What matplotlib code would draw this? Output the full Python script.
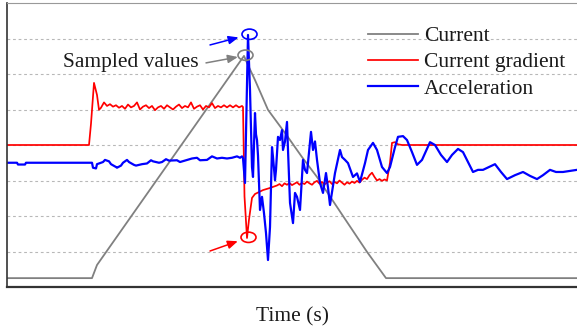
import numpy as np
import matplotlib
matplotlib.use('Agg')
import matplotlib.pyplot as plt
from matplotlib.patches import Ellipse

plt.rcParams['font.family'] = ['Liberation Serif', 'DejaVu Serif']

# --- dane (czas w s, wartosci w jednostkach siatki) ---

# prad: trapez
current_t = [0.0, 8.5, 9.0, 23.7, 24.1, 24.8, 26.1, 27.8, 29.5, 31.0, 33.6, 36.0, 37.9, 57.0]
current_v = [0.25, 0.25, 0.62, 6.51, 6.25, 5.83, 4.99, 4.34, 3.66, 3.10, 2.00, 0.99, 0.25, 0.25]

# gradient pradu
grad_start_t = [0.0, 8.2, 8.4, 8.7, 9.0, 9.2]
grad_start_v = [4.00, 4.00, 4.60, 5.75, 5.41, 4.99]
grad_plateau = [5.05, 5.20, 5.10, 5.15, 5.08, 5.12, 5.05, 5.10, 5.02, 5.14, 5.06, 5.10,
                5.20, 5.00, 5.08, 5.12, 5.04, 5.10, 4.98, 5.06, 5.10, 5.02, 5.12, 5.06,
                5.00, 5.08, 5.14, 5.04, 5.10, 5.06, 5.20, 5.02, 5.08, 5.12, 5.00, 5.10,
                5.06, 5.18, 5.04, 5.10, 5.06, 5.12, 5.06, 5.12, 5.06, 5.12, 5.06, 5.10]
grad_dip_t = [23.6, 23.75, 24.0, 24.2, 24.5, 24.8, 25.6, 26.3]
grad_dip_v = [5.07, 2.55, 1.38, 1.90, 2.51, 2.62, 2.73, 2.79]
grad_after = [2.86, 2.90, 2.84, 2.92, 2.88, 2.93, 2.87, 2.91, 2.95, 2.88, 2.93, 2.90,
              2.97, 2.92, 2.88, 2.95, 2.99, 2.91, 2.96, 2.89, 2.94, 2.98, 2.90, 2.96,
              2.92, 3.00, 2.94, 2.88, 2.95, 2.91, 2.97, 2.93, 2.99, 2.94, 3.02, 3.08,
              3.04, 3.15, 3.22, 3.10, 3.00, 3.04, 2.99, 3.03, 3.00]
grad_end_t = [38.3, 38.5, 38.8, 39.1, 39.5, 57.0]
grad_end_v = [3.50, 4.06, 4.08, 4.02, 4.00, 4.00]

# przyspieszenie
acc_t = [0.0, 1.0, 1.1, 1.8, 1.9, 8.5,
         8.6, 8.9, 9.0, 9.6, 9.8, 10.2, 10.4, 10.9, 11.0, 11.4, 11.6, 12.0, 12.2,
         12.7, 12.9, 13.5, 14.0, 14.4, 14.6, 15.2, 15.5, 15.9, 16.2, 17.0, 17.3,
         18.0, 18.5, 19.0, 19.3, 20.0, 20.5, 21.0, 21.5, 22.0, 22.5, 23.0, 23.3,
         23.5, 23.6, 23.8, 24.1, 24.3, 24.5, 24.6, 24.8, 24.9, 25.0, 25.1, 25.3, 25.5,
         25.7, 25.9, 26.1, 26.3, 26.5, 26.6, 26.8, 26.9, 27.1, 27.3, 27.5, 27.6, 27.8,
         28.0, 28.1, 28.3, 28.6, 28.8, 29.0, 29.3, 29.6, 29.8, 30.0, 30.4, 30.6, 30.8,
         31.0, 31.3, 31.6, 31.9, 32.1, 32.3, 32.8, 33.3, 33.5, 33.8, 34.1, 34.6, 35.0,
         35.3, 35.8, 36.1, 36.6, 37.0, 37.5, 38.0, 38.3, 38.8, 39.1, 39.6, 40.0, 40.5,
         41.0, 41.5, 42.3, 42.8, 43.4, 44.0, 44.5, 45.1, 45.6, 46.1, 46.6, 47.1, 47.6,
         48.2, 48.8, 49.4, 50.0, 50.8, 51.6, 52.3, 53.0, 53.6, 54.3, 54.9, 55.6, 56.3,
         57.0]
acc_v = [3.50, 3.50, 3.45, 3.45, 3.50, 3.50,
         3.36, 3.34, 3.46, 3.52, 3.58, 3.54, 3.46, 3.38, 3.36, 3.42, 3.50, 3.58, 3.52,
         3.44, 3.42, 3.46, 3.48, 3.57, 3.54, 3.50, 3.52, 3.60, 3.56, 3.57, 3.52,
         3.58, 3.62, 3.64, 3.57, 3.58, 3.68, 3.62, 3.64, 3.62, 3.64, 3.68, 3.64,
         3.68, 3.63, 2.93, 7.10, 5.55, 3.38, 3.10, 4.90, 4.30, 4.14, 3.70, 2.17, 2.54,
         2.08, 1.52, 0.76, 1.69, 3.94, 3.66, 3.01, 3.30, 4.23, 4.14, 4.42, 3.86, 4.10,
         4.65, 3.86, 2.37, 1.80, 2.65, 2.54, 2.17, 3.58, 3.30, 3.21, 4.37, 3.86, 4.10,
         3.58, 2.93, 2.65, 3.21, 2.80, 2.31, 3.21, 3.86, 3.66, 3.58, 3.49, 3.10, 3.20,
         2.96, 3.49, 3.86, 4.06, 3.86, 3.38, 3.21, 3.38, 3.94, 4.23, 4.25, 4.14, 3.80,
         3.44, 3.58, 4.08, 4.00, 3.72, 3.52, 3.72, 3.89, 3.80, 3.52, 3.24, 3.30, 3.30,
         3.38, 3.46, 3.24, 3.04, 3.15, 3.24, 3.13, 3.04, 3.15, 3.30, 3.24, 3.24, 3.27,
         3.30]

# skladanie gradientu z kawalkow
grad_t = np.concatenate([grad_start_t, np.linspace(9.4, 23.5, len(grad_plateau)),
                         grad_dip_t, np.linspace(27.0, 38.0, len(grad_after)), grad_end_t])
grad_v = np.concatenate([grad_start_v, grad_plateau, grad_dip_v, grad_after, grad_end_v])

# --- wykres ---
fig = plt.figure(figsize=(5.77, 3.30), dpi=100)
ax = fig.add_axes([7 / 577, 43 / 330, 570 / 577, 284 / 330])

ax.plot(current_t, current_v, color='#808080', lw=1.3, label='Current')
ax.plot(grad_t, grad_v, color='#ff0000', lw=1.25, label='Current gradient')
ax.plot(acc_t, acc_v, color='#0000ff', lw=1.6, label='Acceleration')

ax.set_xlim(0, 57)
ax.set_ylim(0, 8)
ax.set_xticks([])
ax.set_yticks(range(1, 8))
ax.tick_params(left=False, labelleft=False)
ax.grid(axis='y', color='#b8b8b8', lw=0.8, ls=(0, (2.5, 2.5)))

ax.spines['right'].set_visible(False)
ax.spines['top'].set_color('#999999')
ax.spines['top'].set_linewidth(0.8)
ax.spines['left'].set_color('#333333')
ax.spines['left'].set_linewidth(1.2)
ax.spines['bottom'].set_color('#333333')
ax.spines['bottom'].set_linewidth(1.6)

ax.set_xlabel('Time (s)', fontsize=15.5, color='#1a1a1a')
ax.xaxis.set_label_coords(0.5, -0.07)

ax.legend(loc='upper left', bbox_to_anchor=(368 / 577, 1 - 26 / 330),
          bbox_transform=fig.transFigure, frameon=False, fontsize=15.5,
          handlelength=2.3, handletextpad=0.3, labelspacing=0.29,
          borderpad=0, borderaxespad=0, labelcolor='#1a1a1a')

# zaznaczenie probkowanych wartosci
i_cur = int(np.argmax(current_v))
i_acc = int(np.argmax(acc_v))
i_grad = int(np.argmin(grad_v))
marks = [
    (current_t[i_cur], current_v[i_cur], '#808080', (-38, -7), 4.5),
    (acc_t[i_acc], acc_v[i_acc], '#0000ff', (-38, -10), 7),
    (grad_t[i_grad], grad_v[i_grad], '#ff0000', (-37, -13), 7),
]
for cx, cy, col, off, shr in marks:
    ax.add_patch(Ellipse((cx + 0.15, cy + 0.02), 1.5, 0.29, fill=False,
                         edgecolor=col, lw=1.2, zorder=5))
    ax.annotate('', xy=(cx, cy), xytext=off, textcoords='offset pixels',
                arrowprops=dict(arrowstyle='-|>,head_length=0.6,head_width=0.25',
                                color=col, lw=1.1, shrinkA=0, shrinkB=shr,
                                mutation_scale=10), zorder=5)

ax.annotate('Sampled values', xy=(current_t[i_cur], current_v[i_cur]),
            xytext=(-113, -7), textcoords='offset pixels', ha='center', va='center',
            fontsize=15.5, color='#1a1a1a')

fig.savefig('out.png', dpi=100)
